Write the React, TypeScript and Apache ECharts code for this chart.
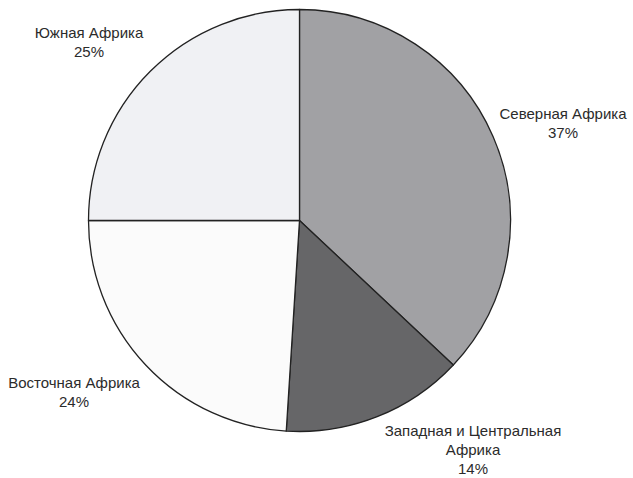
import React, { useEffect, useRef } from "react";
import * as echarts from "echarts";

const categories = ["Северная Африка", "Западная и Центральная Африка", "Восточная Африка", "Южная Африка"];
const labelTexts = ["Северная Африка", "Западная и Центральная\nАфрика", "Восточная Африка", "Южная Африка"];
const values = [37, 14, 24, 25];
const colors = ["#a1a1a4", "#666668", "#fbfbfb", "#f0f1f4"];
const labelPositions = [
  [563, 123],
  [473, 449],
  [74, 392],
  [89, 42],
];

export default function App() {
  const ref = useRef<HTMLDivElement>(null);
  useEffect(() => {
    if (!ref.current) return;
    const chart = echarts.init(ref.current, null, { renderer: "svg" });
    chart.setOption({
      animation: false,
      backgroundColor: "#ffffff",
      series: [
        {
          type: "pie",
          center: [299.5, 220.5],
          radius: 211,
          startAngle: 90,
          clockwise: true,
          avoidLabelOverlap: false,
          itemStyle: { borderColor: "#222222", borderWidth: 1.3 },
          label: {
            show: true,
            position: "outside",
            formatter: (p: any) => `${labelTexts[p.dataIndex]}\n${p.value}%`,
            fontFamily: "Liberation Sans, Arial, sans-serif",
            fontSize: 15,
            lineHeight: 19,
            color: "#2b2b2b",
            align: "center",
          },
          labelLine: { show: false },
          labelLayout: (params: any) => {
            const pos = labelPositions[params.dataIndex];
            return { x: pos[0], y: pos[1], align: "center", verticalAlign: "middle" };
          },
          emphasis: { disabled: true },
          data: categories.map((name, i) => ({
            name,
            value: values[i],
            itemStyle: { color: colors[i] },
          })),
        },
      ],
    });
    return () => chart.dispose();
  }, []);
  return (
    <div
      ref={ref}
      style={{ position: "absolute", left: 0, top: 0, width: 633, height: 478 }}
    />
  );
}
